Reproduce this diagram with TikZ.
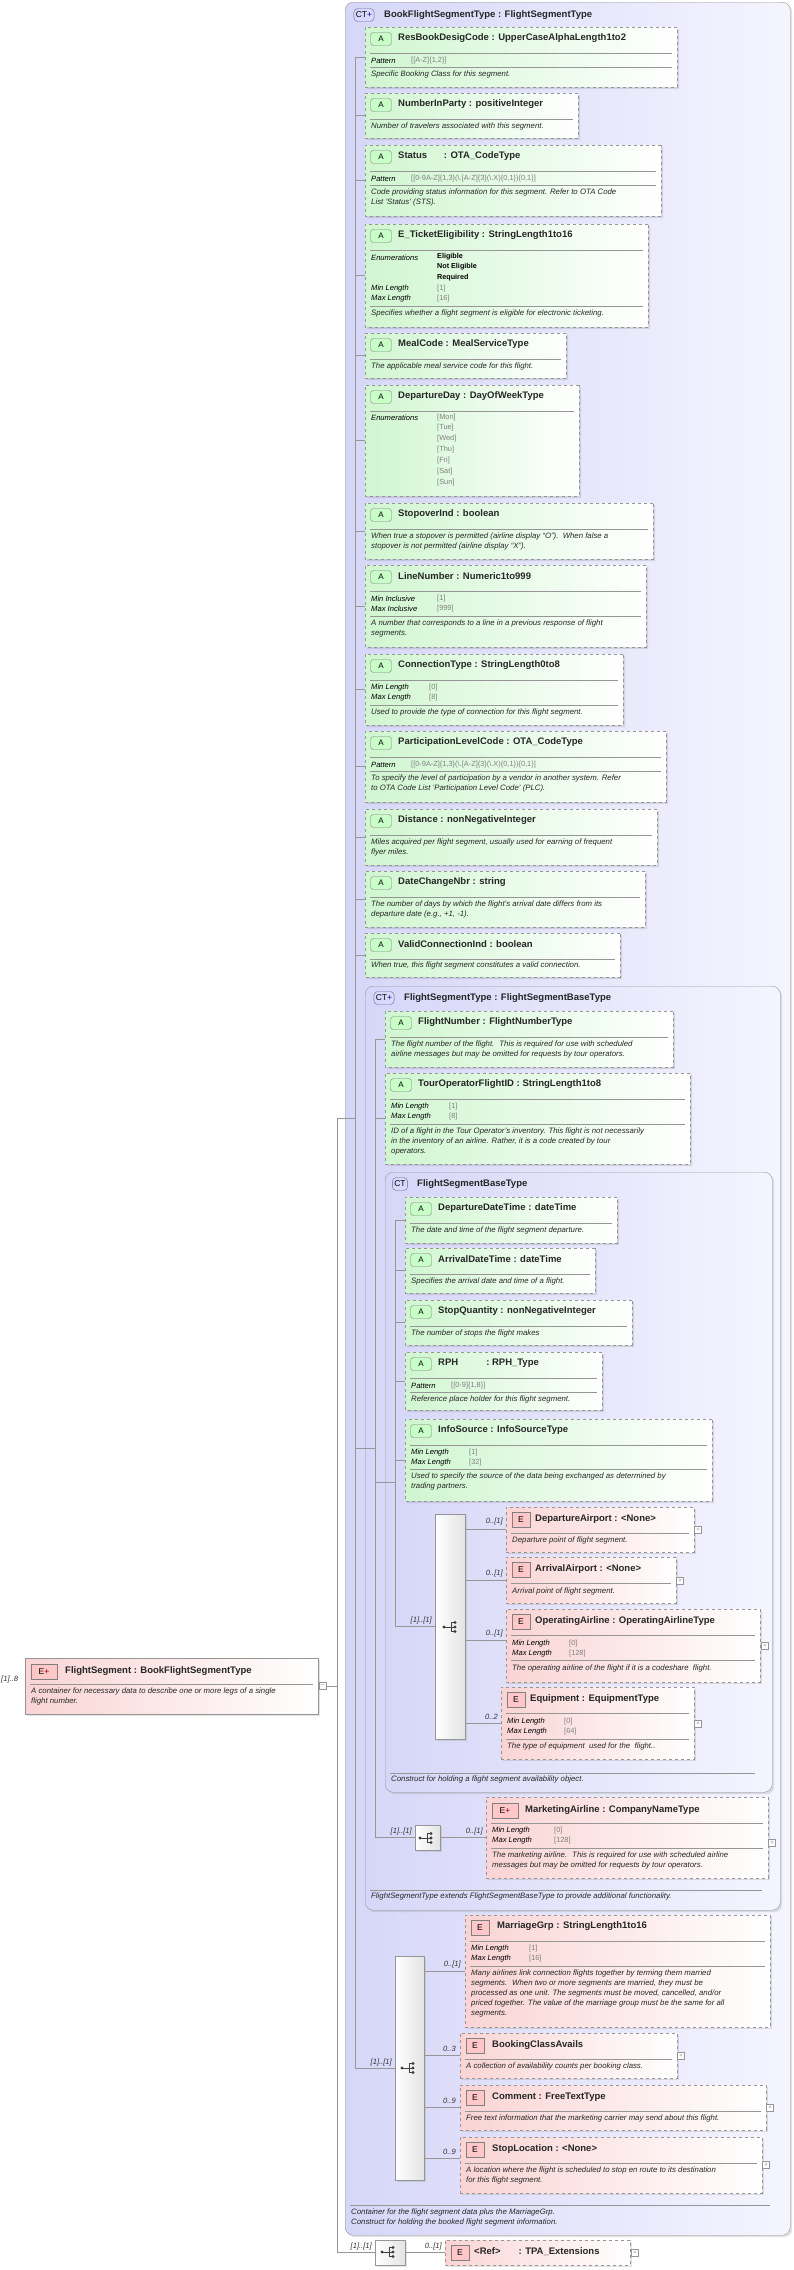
\documentclass[tikz,border=0pt]{standalone}
\usepackage{fontspec}
\setmainfont{Liberation Sans}
\usetikzlibrary{shapes.misc,shadows}
\definecolor{lgreen}{RGB}{208,246,208}
\definecolor{lpink}{RGB}{250,212,212}
\definecolor{llav}{RGB}{214,214,248}
\definecolor{lnc}{RGB}{150,150,150}
\tikzset{
 shad/.style={drop shadow={opacity=0.22,shadow xshift=2pt,shadow yshift=-2pt}},
 abox/.style={chamfered rectangle,chamfered rectangle corners={north west,south west},chamfered rectangle xsep=6pt,anchor=north west,inner sep=0,draw=lnc,dashed,left color=lgreen,right color=white,shad},
 ebox/.style={rectangle,anchor=north west,inner sep=0,draw=lnc,dashed,left color=lpink,right color=white,shad},
 ctbox/.style={rectangle,rounded corners=8pt,anchor=north west,inner sep=0,draw=lnc,left color=llav,right color=white!96!blue,shad},
 seqbar/.style={rectangle,anchor=north west,inner sep=0,draw=lnc,left color=white,right color=gray!22,shad},
 ttl/.style={anchor=west,inner sep=0,font=\fontsize{9.5}{11}\selectfont\bfseries,text=black!85},
 flab/.style={anchor=west,inner sep=0,font=\fontsize{7.6}{9}\selectfont\itshape},
 fval/.style={anchor=west,inner sep=0,font=\fontsize{7.4}{9}\selectfont,text=gray},
 fbold/.style={anchor=west,inner sep=0,font=\fontsize{7.2}{9}\selectfont\bfseries},
 dsc/.style={anchor=north west,inner sep=0,yshift=4pt,align=left,font=\fontsize{7.8}{10}\selectfont\itshape,text=black!85},
 card/.style={inner sep=0,font=\fontsize{7.6}{9}\selectfont\itshape,text=black!80},
 conn/.style={draw=lnc,line width=0.6pt},
 bA/.style={draw=gray,rounded corners=3pt,fill=green!22!white,minimum width=21pt,minimum height=13pt,inner sep=0,font=\fontsize{8}{9}\selectfont},
 bE/.style={draw=gray,fill=red!22!white,minimum width=18pt,minimum height=15pt,inner sep=0,font=\fontsize{8.5}{9}\selectfont},
 bCT/.style={draw=gray!80!blue,rounded corners=4pt,fill=blue!15!white,minimum height=13pt,inner sep=2pt,font=\fontsize{8.5}{9}\selectfont},
 pbox/.style={draw=lnc,fill=white,minimum size=7pt,inner sep=0,font=\fontsize{6}{6}\selectfont,text=gray}
}
\newcommand\abx[5]{\node[abox,minimum width={#4-#2},minimum height={#5-#3}] (#1) at (#2,#3) {};\node[bA] at (#2+16,#3+12) {A};}
\newcommand\ebx[5]{\node[ebox,minimum width={#4-#2},minimum height={#5-#3}] (#1) at (#2,#3) {};\node[bE] at (#2+15,#3+13) {E};}
\newcommand\ttl[3]{\node[ttl] at (#1,#2) {#3};}
\newcommand\fct[5]{\node[flab] at (#1,#2) {#3};\node[fval] at (#4,#2) {#5};}
\newcommand\fvl[3]{\node[fval] at (#1,#2) {#3};}
\newcommand\hsep[3]{\draw[lnc] (#1,#3) -- (#2,#3);}
\newcommand\dsc[3]{\node[dsc] at (#1,#2) {#3};}
\newcommand\plusbox[2]{\node[pbox] at (#1,#2) {+};}
\newcommand\seqicon[2]{\fill[black!75] (#1-6,#2) circle (1.7pt);\draw[black!75,line width=0.8pt] (#1-6,#2)--(#1+1,#2) (#1+1,#2-4.5)--(#1+1,#2+4.5) (#1+1,#2-4.5)--(#1+5,#2-4.5) (#1+1,#2+4.5)--(#1+5,#2+4.5) (#1+1,#2)--(#1+5,#2);
 \fill[black!75] (#1+5,#2-4.5) circle (1.6pt) (#1+5,#2) circle (1.6pt) (#1+5,#2+4.5) circle (1.6pt);}
\begin{document}
\begin{tikzpicture}[x=1pt,y=-1pt]
\useasboundingbox[fill=white] (0,0) rectangle (793,2270);
% ---------- outer CT
\node[ctbox,minimum width=445,minimum height=2233] (ct1) at (345,2) {};
\node[bCT] at (364,15) {CT{\color{blue!50!black}+}};
\ttl{384}{15}{BookFlightSegmentType : FlightSegmentType}
\hsep{350}{770}{2205}
\dsc{351}{2213}{Container for the flight segment data plus the MarriageGrp.\\Construct for holding the booked flight segment information.}
% connectors main
\draw[conn] (337,1118) -- (337,2252);
\draw[conn] (ct1.west -| 337,0) -- (ct1.west -| 355,0);
\draw[conn] (355,57) -- (355,2068);
% attributes
\abx{a1}{365}{27}{677}{87}\ttl{398}{38}{ResBookDesigCode : UpperCaseAlphaLength1to2}
\hsep{370}{672}{53}\fct{371}{61}{Pattern}{411}{[[A-Z]\{1,2\}]}\hsep{370}{672}{67}
\dsc{371}{75}{Specific Booking Class for this segment.}
\abx{a2}{365}{93}{578}{138}\ttl{398}{104}{NumberInParty : positiveInteger}
\hsep{370}{573}{119}\dsc{371}{127}{Number of travelers associated with this segment.}
\abx{a3}{365}{145}{661}{216}\ttl{398}{156}{Status\hspace{14pt} : OTA\_CodeType}
\hsep{370}{656}{171}\fct{371}{179}{Pattern}{411}{[[0-9A-Z]\{1,3\}(\textbackslash.[A-Z]\{3\}(\textbackslash.X)\{0,1\})\{0,1\}]}\hsep{370}{656}{185}
\dsc{371}{193}{Code providing status information for this segment. Refer to OTA Code\\List 'Status' (STS).}
\abx{a4}{365}{224}{648}{327}\ttl{398}{235}{E\_TicketEligibility : StringLength1to16}
\hsep{370}{643}{250}\node[flab] at (371,258) {Enumerations};
\node[fbold] at (437,257) {Eligible};\node[fbold] at (437,267) {Not Eligible};\node[fbold] at (437,278) {Required};
\fct{371}{289}{Min Length}{437}{[1]}\fct{371}{299}{Max Length}{437}{[16]}\hsep{370}{643}{306}
\dsc{371}{314}{Specifies whether a flight segment is eligible for electronic ticketing.}
\abx{a5}{365}{333}{566}{378}\ttl{398}{344}{MealCode : MealServiceType}
\hsep{370}{561}{359}\dsc{371}{367}{The applicable meal service code for this flight.}
\abx{a6}{365}{385}{579}{496}\ttl{398}{396}{DepartureDay : DayOfWeekType}
\hsep{370}{574}{411}\node[flab] at (371,418) {Enumerations};
\fvl{437}{418}{[Mon]}\fvl{437}{428}{[Tue]}\fvl{437}{439}{[Wed]}\fvl{437}{450}{[Thu]}\fvl{437}{461}{[Fri]}\fvl{437}{472}{[Sat]}\fvl{437}{483}{[Sun]}
\abx{a7}{365}{503}{653}{559}\ttl{398}{514}{StopoverInd : boolean}
\hsep{370}{648}{529}\dsc{371}{537}{When true a stopover is permitted (airline display ``O'').~ When false a\\stopover is not permitted (airline display ``X'').}
\abx{a8}{365}{565}{646}{647}\ttl{398}{576}{LineNumber : Numeric1to999}
\hsep{370}{641}{591}\fct{371}{599}{Min Inclusive}{437}{[1]}\fct{371}{609}{Max Inclusive}{437}{[999]}\hsep{370}{641}{616}
\dsc{371}{624}{A number that corresponds to a line in a previous response of flight\\segments.}
\abx{a9}{365}{654}{623}{725}\ttl{398}{665}{ConnectionType : StringLength0to8}
\hsep{370}{618}{680}\fct{371}{688}{Min Length}{429}{[0]}\fct{371}{698}{Max Length}{429}{[8]}\hsep{370}{618}{705}
\dsc{371}{713}{Used to provide the type of connection for this flight segment.}
\abx{a10}{365}{731}{666}{802}\ttl{398}{742}{ParticipationLevelCode : OTA\_CodeType}
\hsep{370}{661}{757}\fct{371}{765}{Pattern}{411}{[[0-9A-Z]\{1,3\}(\textbackslash.[A-Z]\{3\}(\textbackslash.X)\{0,1\})\{0,1\}]}\hsep{370}{661}{771}
\dsc{371}{779}{To specify the level of participation by a vendor in another system. Refer\\to OTA Code List 'Participation Level Code' (PLC).}
\abx{a11}{365}{809}{657}{865}\ttl{398}{820}{Distance : nonNegativeInteger}
\hsep{370}{652}{835}\dsc{371}{843}{Miles acquired per flight segment, usually used for earning of frequent\\flyer miles.}
\abx{a12}{365}{871}{645}{927}\ttl{398}{882}{DateChangeNbr : string}
\hsep{370}{640}{897}\dsc{371}{905}{The number of days by which the flight's arrival date differs from its\\departure date (e.g., +1, -1).}
\abx{a13}{365}{933}{620}{977}\ttl{398}{944}{ValidConnectionInd : boolean}
\hsep{370}{615}{959}\dsc{371}{966}{When true, this flight segment constitutes a valid connection.}
\foreach \n in {a1,a2,a3,a4,a5,a6,a7,a8,a9,a10,a11,a12,a13} {\draw[conn] (\n.west -| 355,0) -- (\n.west);}
% ---------- FlightSegmentType
\node[ctbox,minimum width=415,minimum height=924] (ct2) at (365,986) {};
\draw[conn] (ct2.west -| 355,0) -- (ct2.west -| 375,0);
\node[bCT] at (384,998) {CT{\color{blue!50!black}+}};
\ttl{404}{998}{FlightSegmentType : FlightSegmentBaseType}
\hsep{370}{762}{1890}
\dsc{371}{1897}{FlightSegmentType extends FlightSegmentBaseType to provide additional functionality.}
\draw[conn] (375,1039) -- (375,1838);
\abx{b1}{385}{1011}{673}{1067}\ttl{418}{1022}{FlightNumber : FlightNumberType}
\hsep{390}{668}{1037}\dsc{391}{1045}{The flight number of the flight.~ This is required for use with scheduled\\airline messages but may be omitted for requests by tour operators.}
\abx{b2}{385}{1073}{690}{1164}\ttl{418}{1084}{TourOperatorFlightID : StringLength1to8}
\hsep{390}{685}{1099}\fct{391}{1107}{Min Length}{449}{[1]}\fct{391}{1117}{Max Length}{449}{[8]}\hsep{390}{685}{1124}
\dsc{391}{1132}{ID of a flight in the Tour Operator's inventory. This flight is not necessarily\\in the inventory of an airline. Rather, it is a code created by tour\\operators.}
\foreach \n in {b1,b2} {\draw[conn] (\n.west -| 375,0) -- (\n.west);}
% ---------- FlightSegmentBaseType
\node[ctbox,minimum width=387,minimum height=620] (ct3) at (385,1172) {};
\draw[conn] (ct3.west -| 375,0) -- (ct3.west -| 395,0);
\node[bCT] at (400,1184) {CT};
\ttl{417}{1184}{FlightSegmentBaseType}
\hsep{390}{755}{1773}
\dsc{391}{1780}{Construct for holding a flight segment availability object.}
\draw[conn] (395,1220) -- (395,1627);
\abx{c1}{405}{1197}{617}{1243}\ttl{438}{1208}{DepartureDateTime : dateTime}
\hsep{410}{612}{1223}\dsc{411}{1231}{The date and time of the flight segment departure.}
\abx{c2}{405}{1248}{595}{1293}\ttl{438}{1259}{ArrivalDateTime : dateTime}
\hsep{410}{590}{1274}\dsc{411}{1282}{Specifies the arrival date and time of a flight.}
\abx{c3}{405}{1300}{632}{1345}\ttl{438}{1311}{StopQuantity : nonNegativeInteger}
\hsep{410}{627}{1326}\dsc{411}{1334}{The number of stops the flight makes}
\abx{c4}{405}{1352}{602}{1410}\ttl{438}{1363}{RPH\hspace{28pt}: RPH\_Type}
\hsep{410}{597}{1378}\fct{411}{1386}{Pattern}{451}{[[0-9]\{1,8\}]}\hsep{410}{597}{1392}
\dsc{411}{1400}{Reference place holder for this flight segment.}
\abx{c5}{405}{1419}{712}{1501}\ttl{438}{1430}{InfoSource : InfoSourceType}
\hsep{410}{707}{1445}\fct{411}{1453}{Min Length}{469}{[1]}\fct{411}{1463}{Max Length}{469}{[32]}\hsep{410}{707}{1469}
\dsc{411}{1477}{Used to specify the source of the data being exchanged as determined by\\trading partners.}
\foreach \n in {c1,c2,c3,c4,c5} {\draw[conn] (\n.west -| 395,0) -- (\n.west);}
% sequence in base type
\node[seqbar,minimum width=30,minimum height=225] (s1) at (435,1514) {};
\seqicon{450}{1627}
\draw[conn] (s1.west -| 395,0) -- (s1.west);
\node[card,anchor=south east] at ([xshift=-3pt,yshift=2pt]s1.west) {[1]..[1]};
\ebx{d1}{506}{1507}{694}{1552}\ttl{535}{1519}{DepartureAirport : <None>}
\hsep{511}{689}{1533}\dsc{512}{1541}{Departure point of flight segment.}\plusbox{698}{1530}
\ebx{d2}{506}{1557}{676}{1603}\ttl{535}{1569}{ArrivalAirport : <None>}
\hsep{511}{671}{1583}\dsc{512}{1592}{Arrival point of flight segment.}\plusbox{680}{1581}
\ebx{d3}{506}{1609}{760}{1682}\ttl{535}{1621}{OperatingAirline : OperatingAirlineType}
\hsep{511}{755}{1635}\fct{512}{1644}{Min Length}{569}{[0]}\fct{512}{1654}{Max Length}{569}{[128]}\hsep{511}{755}{1660}
\dsc{512}{1669}{The operating airline of the flight if it is a codeshare~ flight.}\plusbox{765}{1646}
\ebx{d4}{501}{1687}{694}{1759}\ttl{530}{1699}{Equipment : EquipmentType}
\hsep{506}{689}{1713}\fct{507}{1722}{Min Length}{564}{[0]}\fct{507}{1732}{Max Length}{564}{[64]}\hsep{506}{689}{1739}
\dsc{507}{1747}{The type of equipment~ used for the~ flight..}\plusbox{698}{1724}
\draw[conn] (465,1529) -- (d1.west |- 0,1529);
\draw[conn] (465,1580) -- (d2.west |- 0,1580);
\draw[conn] (465,1640) -- (d3.west |- 0,1640);
\draw[conn] (465,1723) -- (d4.west |- 0,1723);
\node[card,anchor=east] at (503,1522) {0..[1]};
\node[card,anchor=east] at (503,1574) {0..[1]};
\node[card,anchor=east] at (503,1634) {0..[1]};
\node[card,anchor=east] at (498,1717) {0..2};
% marketing airline
\node[seqbar,minimum width=25,minimum height=25] (s2) at (415,1825) {};
\seqicon{426}{1838}
\draw[conn] (s2.west -| 375,0) -- (s2.west);
\node[card,anchor=south east] at ([xshift=-3pt,yshift=2pt]s2.west) {[1]..[1]};
\node[ebox,minimum width=282,minimum height=81] (m1) at (486,1797) {};
\node[bE,minimum width=26pt] at (505,1811) {E{\color{red!60!black}+}};
\ttl{525}{1810}{MarketingAirline : CompanyNameType}
\hsep{491}{763}{1823}\fct{492}{1831}{Min Length}{554}{[0]}\fct{492}{1841}{Max Length}{554}{[128]}\hsep{491}{763}{1848}
\dsc{492}{1856}{The marketing airline.~ This is required for use with scheduled airline\\messages but may be omitted for requests by tour operators.}\plusbox{772}{1843}
\draw[conn] (s2.east) -- (m1.west);
\node[card,anchor=south east] at ([xshift=-3pt,yshift=2pt]m1.west) {0..[1]};
% ---------- bottom sequence
\node[seqbar,minimum width=29,minimum height=224] (s3) at (395,1956) {};
\seqicon{408}{2068}
\draw[conn] (s3.west -| 355,0) -- (s3.west);
\node[card,anchor=south east] at ([xshift=-3pt,yshift=2pt]s3.west) {[1]..[1]};
\ebx{e1}{465}{1915}{770}{2027}\ttl{497}{1926}{MarriageGrp : StringLength1to16}
\hsep{470}{765}{1941}\fct{471}{1949}{Min Length}{529}{[1]}\fct{471}{1959}{Max Length}{529}{[16]}\hsep{470}{765}{1966}
\dsc{471}{1974}{Many airlines link connection flights together by terming them married\\segments.~ When two or more segments are married, they must be\\processed as one unit. The segments must be moved, cancelled, and/or\\priced together. The value of the marriage group must be the same for all\\segments.}
\ebx{e2}{460}{2033}{677}{2078}\ttl{492}{2045}{BookingClassAvails}
\hsep{465}{672}{2059}\dsc{466}{2067}{A collection of availability counts per booking class.}\plusbox{681}{2056}
\ebx{e3}{460}{2085}{766}{2130}\ttl{492}{2097}{Comment : FreeTextType}
\hsep{465}{761}{2111}\dsc{466}{2119}{Free text information that the marketing carrier may send about this flight.}\plusbox{770}{2108}
\ebx{e4}{460}{2137}{762}{2193}\ttl{492}{2149}{StopLocation : <None>}
\hsep{465}{757}{2163}\dsc{466}{2171}{A location where the flight is scheduled to stop en route to its destination\\for this flight segment.}\plusbox{766}{2165}
\draw[conn] (424,1971) -- (e1.west |- 0,1971);
\draw[conn] (424,2055) -- (e2.west |- 0,2055);
\draw[conn] (424,2107) -- (e3.west |- 0,2107);
\draw[conn] (424,2158) -- (e4.west |- 0,2158);
\node[card,anchor=east] at (461,1965) {0..[1]};
\node[card,anchor=east] at (456,2049) {0..3};
\node[card,anchor=east] at (456,2101) {0..9};
\node[card,anchor=east] at (456,2152) {0..9};
% ---------- TPA
\node[seqbar,minimum width=30,minimum height=25] (s4) at (375,2240) {};
\seqicon{388}{2252}
\draw[conn] (s4.west -| 337,0) -- (s4.west);
\node[card,anchor=south east] at ([xshift=-3pt,yshift=2pt]s4.west) {[1]..[1]};
\ebx{r1}{445}{2240}{630}{2265}\ttl{474}{2252}{<Ref>\hspace{18pt}: TPA\_Extensions}\plusbox{635}{2253}
\draw[conn] (s4.east) -- (r1.west);
\node[card,anchor=south east] at ([xshift=-3pt,yshift=2pt]r1.west) {0..[1]};
% ---------- FlightSegment
\node[ebox,solid,minimum width=293,minimum height=56] (fs) at (25,1658) {};
\node[bE,minimum width=26pt] at (44,1672) {E{\color{red!60!black}+}};
\ttl{65}{1671}{FlightSegment : BookFlightSegmentType}
\hsep{30}{313}{1684}
\dsc{31}{1692}{A container for necessary data to describe one or more legs of a single\\flight number.}
\node[card,anchor=west] at (1,1680) {[1]..8};
\node[pbox] (mn) at (323,1686) {--};
\draw[conn] (mn.east) -- (337,1686);
\end{tikzpicture}
\end{document}
